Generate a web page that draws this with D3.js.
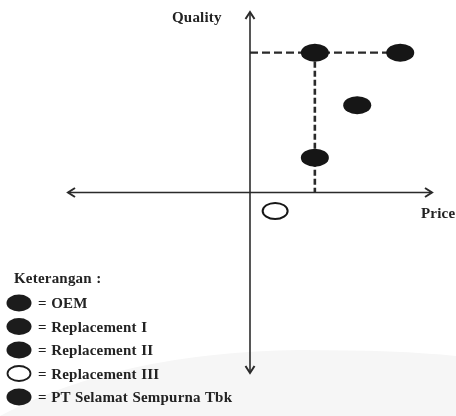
<!DOCTYPE html>
<html>
<head>
<meta charset="utf-8">
<script src="https://cdn.jsdelivr.net/npm/d3@7"></script>
<style>
  html, body { margin: 0; padding: 0; background: #fff; }
  svg { display: block; }
</style>
</head>
<body>
<svg id="chart" width="456" height="416"></svg>
<script>
// ---- data ----
const categories = ["OEM", "Replacement I", "Replacement II", "Replacement III", "PT Selamat Sempurna Tbk"];
const priceValues   = [2.27, 1.62, 0.98, 0.38, 0.98];
const qualityValues = [2.13, 1.33, 0.53, -0.28, 2.13];
const hollow        = [false, false, false, true, false];
const axisLabels    = ["Price", "Quality"];
const legendTitle   = "Keterangan :";
const axisExtent    = [-2.75, 2.75];

// ---- drawing ----
const svg = d3.select("#chart");
const FONT = "'Liberation Serif', 'Times New Roman', 'DejaVu Serif', serif";

const defs = svg.append("defs");
defs.append("filter").attr("id", "soft")
  .append("feGaussianBlur").attr("stdDeviation", 0.55);

// faint background watermark
svg.append("path")
  .attr("d", "M0,416 Q120,352 300,350 Q400,350 456,356 L456,416 Z")
  .attr("fill", "#f6f6f6");

const x = d3.scaleLinear().domain(axisExtent).range([68, 432]);
const y = d3.scaleLinear().domain(axisExtent).range([373, 12]);

const g = svg.append("g").attr("filter", "url(#soft)");
const ink = "#2a2a2a";

// axes
g.append("line").attr("x1", x(axisExtent[0])).attr("x2", x(axisExtent[1]))
  .attr("y1", y(0)).attr("y2", y(0)).attr("stroke", ink).attr("stroke-width", 1.6);
g.append("line").attr("x1", x(0)).attr("x2", x(0))
  .attr("y1", y(axisExtent[1])).attr("y2", y(axisExtent[0])).attr("stroke", ink).attr("stroke-width", 1.6);

function arrow(px, py, dx, dy) {
  const len = 7, wid = 4.5;
  const nx = -dy, ny = dx;
  const bx = px - dx * len, by = py - dy * len;
  g.append("path")
    .attr("d", `M${bx + nx * wid},${by + ny * wid} L${px},${py} L${bx - nx * wid},${by - ny * wid}`)
    .attr("fill", "none").attr("stroke", ink).attr("stroke-width", 2);
}
arrow(x(axisExtent[1]), y(0), 1, 0);
arrow(x(axisExtent[0]), y(0), -1, 0);
arrow(x(0), y(axisExtent[1]), 0, -1);
arrow(x(0), y(axisExtent[0]), 0, 1);

// dashed reference lines
const ptIdx = 4, oemIdx = 0;
g.append("line")
  .attr("x1", x(0)).attr("x2", x(priceValues[oemIdx]))
  .attr("y1", y(qualityValues[ptIdx])).attr("y2", y(qualityValues[ptIdx]))
  .attr("stroke", ink).attr("stroke-width", 2.2).attr("stroke-dasharray", "8,4");
g.append("line")
  .attr("x1", x(priceValues[ptIdx])).attr("x2", x(priceValues[ptIdx]))
  .attr("y1", y(qualityValues[ptIdx])).attr("y2", y(0))
  .attr("stroke", ink).attr("stroke-width", 2.6).attr("stroke-dasharray", "6,3");

// points
const pts = categories.map((c, i) => ({ c, p: priceValues[i], q: qualityValues[i], h: hollow[i] }));
g.selectAll("ellipse.pt").data(pts).join("ellipse")
  .attr("class", "pt")
  .attr("cx", d => x(d.p)).attr("cy", d => y(d.q))
  .attr("rx", d => d.h ? 12.5 : 14).attr("ry", d => d.h ? 8 : 9)
  .attr("fill", d => d.h ? "#fff" : "#151515")
  .attr("stroke", "#151515").attr("stroke-width", d => d.h ? 2 : 0);

function label(sel) {
  return sel.attr("font-family", FONT).attr("font-weight", "bold")
    .attr("font-size", 15).attr("letter-spacing", 0.2).attr("word-spacing", 0.5).attr("fill", "#222");
}

// axis labels
label(g.append("text")).attr("x", 172).attr("y", 22).text(axisLabels[1]);
label(g.append("text")).attr("x", 421).attr("y", 218).text(axisLabels[0]);

// legend
label(g.append("text")).attr("x", 14).attr("y", 283).text(legendTitle);
const ly = d3.scalePoint().domain(categories).range([303, 397]);
const leg = g.selectAll("g.leg").data(pts).join("g").attr("class", "leg")
  .attr("transform", d => `translate(0,${ly(d.c)})`);
leg.append("ellipse").attr("cx", 19).attr("cy", 0)
  .attr("rx", d => d.h ? 11.5 : 12.5).attr("ry", d => d.h ? 7.5 : 8.5)
  .attr("fill", d => d.h ? "#fff" : "#1c1c1c")
  .attr("stroke", "#1c1c1c").attr("stroke-width", d => d.h ? 1.8 : 0);
label(leg.append("text")).attr("x", 38).attr("y", 5).text(d => "= " + d.c);
</script>
</body>
</html>
